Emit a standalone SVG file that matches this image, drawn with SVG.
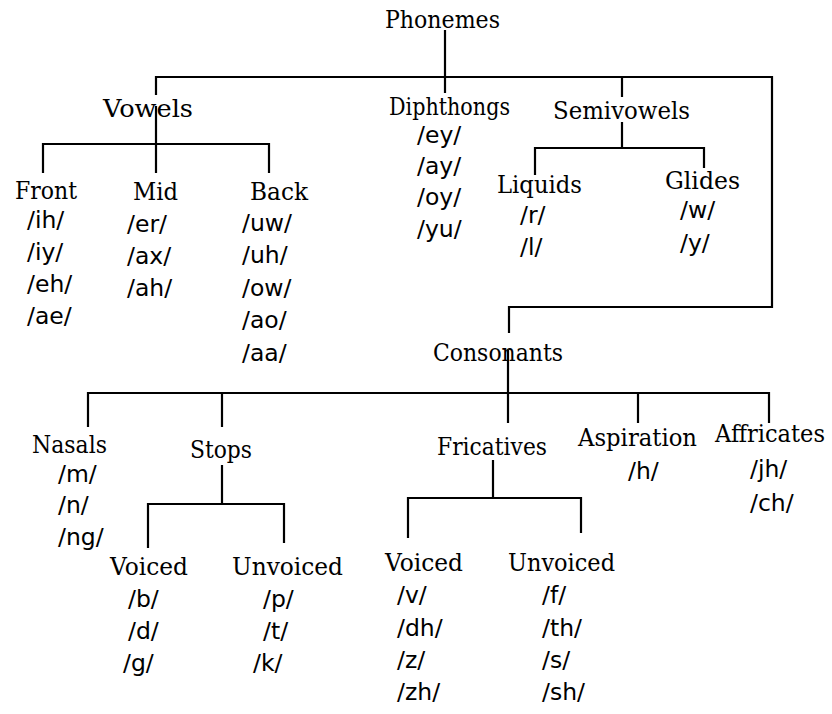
<svg xmlns="http://www.w3.org/2000/svg" width="832" height="714" viewBox="0 0 832 714">
<style>
.l{font-family:"DejaVu Serif","Liberation Serif",serif;font-size:24px;fill:#000}
.i{font-family:"DejaVu Sans","Liberation Sans",sans-serif;font-size:23.5px;fill:#000}
.c{stroke:#000;stroke-width:2.2;fill:none}
</style>
<rect width="832" height="714" fill="#fff"/>
<g id="connectors" class="c">
<path d="M445 30V77M156 95V77H772V307H509V333M445 77V93M622 77V97"/>
<path d="M156 106V144M43 173V144H269V173M156 144V173"/>
<path d="M622 122V148M535 175V148H704V168"/>
<path d="M508 350V393M88 427V393H769V423M222 393V427M508 393V423M638 393V423"/>
<path d="M222 465V504M148 548V504H284V543"/>
<path d="M493 460V498M408 538V498H581V533"/>
</g>
<g id="phonemes"><text class="l" x="385" y="28" textLength="115" lengthAdjust="spacingAndGlyphs">Phonemes</text></g>
<g id="vowels"><text class="l" x="103" y="117" textLength="90" lengthAdjust="spacingAndGlyphs">Vowels</text></g>
<g id="diphthongs"><text class="l" x="389" y="115" textLength="121" lengthAdjust="spacingAndGlyphs">Diphthongs</text>
<text class="i" x="417" y="143">/ey/</text><text class="i" x="417" y="174">/ay/</text><text class="i" x="417" y="205">/oy/</text><text class="i" x="417" y="237">/yu/</text></g>
<g id="semivowels"><text class="l" x="553" y="119" textLength="137" lengthAdjust="spacingAndGlyphs">Semivowels</text></g>
<g id="front"><text class="l" x="15" y="199" textLength="62" lengthAdjust="spacingAndGlyphs">Front</text>
<text class="i" x="27" y="228">/ih/</text><text class="i" x="27" y="260">/iy/</text><text class="i" x="27" y="292">/eh/</text><text class="i" x="27" y="324">/ae/</text></g>
<g id="mid"><text class="l" x="133" y="200" textLength="45" lengthAdjust="spacingAndGlyphs">Mid</text>
<text class="i" x="127" y="232">/er/</text><text class="i" x="127" y="264">/ax/</text><text class="i" x="127" y="296">/ah/</text></g>
<g id="back"><text class="l" x="250" y="200" textLength="58" lengthAdjust="spacingAndGlyphs">Back</text>
<text class="i" x="242" y="231">/uw/</text><text class="i" x="242" y="263">/uh/</text><text class="i" x="242" y="296">/ow/</text><text class="i" x="242" y="328">/ao/</text><text class="i" x="242" y="361">/aa/</text></g>
<g id="liquids"><text class="l" x="497" y="193" textLength="85" lengthAdjust="spacingAndGlyphs">Liquids</text>
<text class="i" x="520" y="223">/r/</text><text class="i" x="520" y="255">/l/</text></g>
<g id="glides"><text class="l" x="665" y="189" textLength="75" lengthAdjust="spacingAndGlyphs">Glides</text>
<text class="i" x="680" y="218">/w/</text><text class="i" x="680" y="251">/y/</text></g>
<g id="consonants"><text class="l" x="433" y="361" textLength="130" lengthAdjust="spacingAndGlyphs">Consonants</text></g>
<g id="nasals"><text class="l" x="32" y="453" textLength="75" lengthAdjust="spacingAndGlyphs">Nasals</text>
<text class="i" x="58" y="482">/m/</text><text class="i" x="58" y="513">/n/</text><text class="i" x="58" y="545">/ng/</text></g>
<g id="stops"><text class="l" x="190" y="458" textLength="62" lengthAdjust="spacingAndGlyphs">Stops</text></g>
<g id="fricatives"><text class="l" x="437" y="455" textLength="110" lengthAdjust="spacingAndGlyphs">Fricatives</text></g>
<g id="aspiration"><text class="l" x="578" y="446" textLength="119" lengthAdjust="spacingAndGlyphs">Aspiration</text>
<text class="i" x="628" y="479">/h/</text></g>
<g id="affricates"><text class="l" x="715" y="442" textLength="110" lengthAdjust="spacingAndGlyphs">Affricates</text>
<text class="i" x="750" y="477">/jh/</text><text class="i" x="750" y="511">/ch/</text></g>
<g id="stops-voiced"><text class="l" x="110" y="575" textLength="78" lengthAdjust="spacingAndGlyphs">Voiced</text>
<text class="i" x="128" y="607">/b/</text><text class="i" x="128" y="639">/d/</text><text class="i" x="123" y="671">/g/</text></g>
<g id="stops-unvoiced"><text class="l" x="232" y="575" textLength="111" lengthAdjust="spacingAndGlyphs">Unvoiced</text>
<text class="i" x="263" y="607">/p/</text><text class="i" x="263" y="639">/t/</text><text class="i" x="253" y="671">/k/</text></g>
<g id="fricatives-voiced"><text class="l" x="385" y="571" textLength="78" lengthAdjust="spacingAndGlyphs">Voiced</text>
<text class="i" x="397" y="603">/v/</text><text class="i" x="397" y="636">/dh/</text><text class="i" x="397" y="668">/z/</text><text class="i" x="397" y="700">/zh/</text></g>
<g id="fricatives-unvoiced"><text class="l" x="508" y="571" textLength="107" lengthAdjust="spacingAndGlyphs">Unvoiced</text>
<text class="i" x="542" y="603">/f/</text><text class="i" x="542" y="636">/th/</text><text class="i" x="542" y="668">/s/</text><text class="i" x="542" y="700">/sh/</text></g>
</svg>
